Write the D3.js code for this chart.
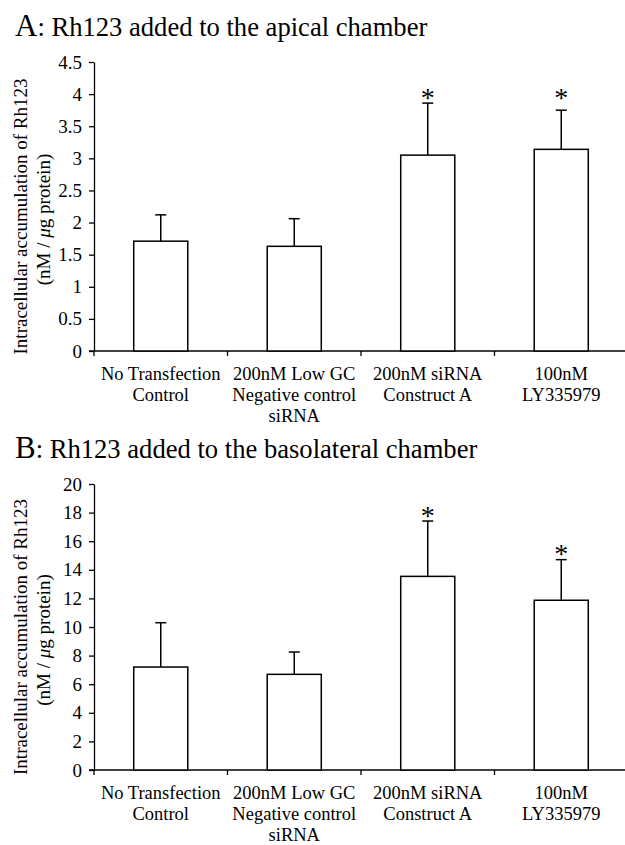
<!DOCTYPE html>
<html>
<head>
<meta charset="utf-8">
<script src="https://cdn.jsdelivr.net/npm/d3@7"></script>
<style>
  body { margin: 0; background: #fff; }
  svg, svg text { font-family: "Liberation Serif", "Times New Roman", Times, serif; }
</style>
</head>
<body>
<svg id="chart" width="625" height="845"></svg>
<script>
// categories (one line per label row)
const categories = [
  ["No Transfection", "Control"],
  ["200nM Low GC", "Negative control", "siRNA"],
  ["200nM siRNA", "Construct A"],
  ["100nM", "LY335979"]
];

// panel A: apical
const apicalMeans = [1.71, 1.63, 3.05, 3.14];
const apicalErrors = [0.41, 0.43, 0.81, 0.61];
const apicalStars = [null, null, 4.03, 4.03];
const apicalTicks = [0, 0.5, 1, 1.5, 2, 2.5, 3, 3.5, 4, 4.5];

// panel B: basolateral
const basoMeans = [7.2, 6.69, 13.54, 11.87];
const basoErrors = [3.1, 1.56, 3.87, 2.84];
const basoStars = [null, null, 18.18, 15.52];
const basoTicks = [0, 2, 4, 6, 8, 10, 12, 14, 16, 18, 20];

const FONT = "Liberation Serif, Times New Roman, serif";
const svg = d3.select("#chart");

function drawPanel(opts) {
  const g = svg.append("g").attr("font-family", FONT);

  // title, big letter then the rest
  const title = g.append("text")
    .attr("x", 15)
    .attr("y", opts.titleY)
    .attr("fill", "#000");
  title.append("tspan").attr("font-size", 31).text(opts.letter);
  title.append("tspan").attr("font-size", 26.6).text(opts.title);

  const x = d3.scaleBand()
    .domain(d3.range(categories.length))
    .range([94, 628])
    .paddingInner(0.595)
    .paddingOuter(0.2975);

  const y = d3.scaleLinear()
    .domain([0, d3.max(opts.ticks)])
    .range([opts.bottom, opts.top]);

  // y axis
  const yAxis = g.append("g")
    .attr("transform", "translate(94,0)")
    .call(d3.axisLeft(y).tickValues(opts.ticks).tickFormat(d => String(d)).tickSize(5).tickSizeOuter(0));
  yAxis.attr("font-family", FONT);
  yAxis.select(".domain").attr("stroke", "#000").attr("stroke-width", 1.3);
  yAxis.selectAll(".tick line").attr("stroke", "#000").attr("stroke-width", 1.3);
  yAxis.selectAll(".tick text")
    .attr("font-size", 19)
    .attr("fill", "#000")
    .attr("x", -12);

  // x axis line and band ticks
  g.append("line")
    .attr("x1", 89).attr("x2", 628)
    .attr("y1", y(0)).attr("y2", y(0))
    .attr("stroke", "#000").attr("stroke-width", 1.3);
  g.selectAll(".xtick").data(d3.range(categories.length))
    .enter().append("line")
    .attr("x1", d => 94 + d * x.step())
    .attr("x2", d => 94 + d * x.step())
    .attr("y1", y(0)).attr("y2", y(0) + 5)
    .attr("stroke", "#000").attr("stroke-width", 1.3);

  const cx = i => x(i) + x.bandwidth() / 2;

  // category labels
  g.selectAll(".xlab").data(categories)
    .enter().append("text")
    .attr("text-anchor", "middle")
    .attr("font-size", 18.5)
    .attr("fill", "#000")
    .each(function (lines, i) {
      d3.select(this).selectAll("tspan").data(lines)
        .enter().append("tspan")
        .attr("x", cx(i))
        .attr("y", (d, j) => y(0) + 29 + j * 21)
        .text(d => d);
    });

  // bars
  g.selectAll(".bar").data(opts.means)
    .enter().append("rect")
    .attr("x", (d, i) => x(i))
    .attr("y", d => y(d))
    .attr("width", x.bandwidth())
    .attr("height", d => y(0) - y(d))
    .attr("fill", "#fff")
    .attr("stroke", "#000")
    .attr("stroke-width", 1.5);

  // error bars (upper only)
  g.selectAll(".err").data(opts.means)
    .enter().append("line")
    .attr("x1", (d, i) => cx(i)).attr("x2", (d, i) => cx(i))
    .attr("y1", d => y(d))
    .attr("y2", (d, i) => y(d + opts.errors[i]))
    .attr("stroke", "#000").attr("stroke-width", 1.5);
  g.selectAll(".cap").data(opts.means)
    .enter().append("line")
    .attr("x1", (d, i) => cx(i) - 5.5).attr("x2", (d, i) => cx(i) + 5.5)
    .attr("y1", (d, i) => y(d + opts.errors[i]))
    .attr("y2", (d, i) => y(d + opts.errors[i]))
    .attr("stroke", "#000").attr("stroke-width", 1.5);

  // significance stars
  const stars = opts.stars.map((v, i) => ({ v, i })).filter(d => d.v !== null);
  g.selectAll(".star").data(stars)
    .enter().append("text")
    .attr("text-anchor", "middle")
    .attr("font-size", 28)
    .attr("fill", "#000")
    .attr("x", d => cx(d.i))
    .attr("y", d => y(d.v) + 15)
    .text("*");

  // y label
  const mid = (opts.top + opts.bottom) / 2 + 10;
  const ylab = g.append("text")
    .attr("transform", `translate(0,${mid}) rotate(-90)`)
    .attr("text-anchor", "middle")
    .attr("font-size", 19)
    .attr("fill", "#000");
  ylab.append("tspan").attr("x", 0).attr("y", 26.5).text("Intracellular accumulation of Rh123");
  const l2 = ylab.append("tspan").attr("x", -3).attr("y", 49.5);
  l2.append("tspan").text("(nM / ");
  l2.append("tspan").attr("font-style", "italic").text("μ");
  l2.append("tspan").text("g protein)");
}

drawPanel({
  letter: "A", title: ": Rh123 added to the apical chamber", titleY: 36,
  means: apicalMeans, errors: apicalErrors, stars: apicalStars, ticks: apicalTicks,
  top: 62, bottom: 351
});

drawPanel({
  letter: "B", title: ": Rh123 added to the basolateral chamber", titleY: 458,
  means: basoMeans, errors: basoErrors, stars: basoStars, ticks: basoTicks,
  top: 484, bottom: 770
});
</script>
</body>
</html>
